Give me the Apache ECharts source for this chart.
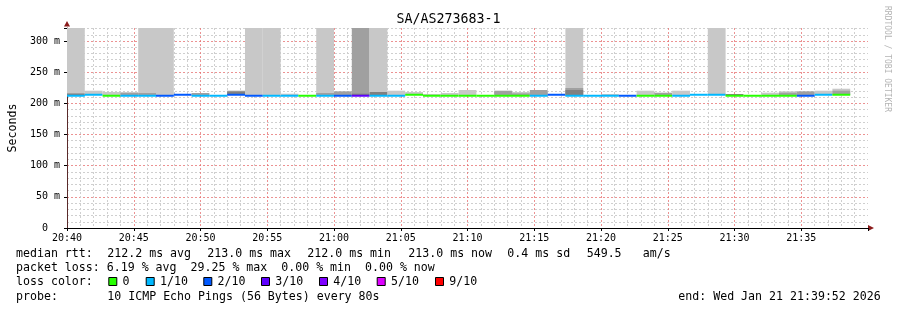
<!DOCTYPE html>
<html><head><meta charset="utf-8">
<script src="https://cdn.jsdelivr.net/npm/echarts@6/dist/echarts.min.js"></script>
<style>html,body{margin:0;padding:0;background:#fff}#c{width:897px;height:310px}</style>
</head><body><div id="c"></div>
<script>
// ---- data ----
const titleText = 'SA/AS273683-1';
const axisStart = '20:40:00';
const axisEnd = '21:40:00';
const stepStarts = ['20:40:00','20:41:20','20:42:40','20:44:00','20:45:20','20:46:40','20:48:00','20:49:20','20:50:40','20:52:00',
  '20:53:20','20:54:40','20:56:00','20:57:20','20:58:40','21:00:00','21:01:20','21:02:40','21:04:00','21:05:20',
  '21:06:40','21:08:00','21:09:20','21:10:40','21:12:00','21:13:20','21:14:40','21:16:00','21:17:20','21:18:40',
  '21:20:00','21:21:20','21:22:40','21:24:00','21:25:20','21:26:40','21:28:00','21:29:20','21:30:40','21:32:00',
  '21:33:20','21:34:40','21:36:00','21:37:20'];
const stepSeconds = 80;
const medianMs = [212.2,213.8,212.2,212.2,212.2,212.2,213.8,212.2,212.2,213.8,
  212.2,212.2,212.2,212.2,212.2,212.2,212.2,212.2,212.2,213.8,
  212.2,212.2,212.2,212.2,212.2,212.2,212.2,213.8,212.2,212.2,
  212.2,212.2,212.2,212.2,212.2,213.8,213.8,212.2,212.2,212.2,
  212.2,212.2,213.8,213.8];
const lossCount = [1,1,0,1,1,2,2,1,1,2,
  2,1,1,0,1,2,3,1,1,0,
  0,0,0,0,0,0,1,2,1,1,
  1,2,0,0,1,1,1,0,0,0,
  0,2,1,0];
const smokeLight = [320.9,220.3,218.2,218.2,320.9,320.9,null,null,null,null,
  320.9,320.9,215.5,null,320.9,null,null,320.9,220.3,218.2,
  215.0,216.6,221.4,null,null,218.2,null,null,320.9,null,
  215.0,null,220.3,null,220.3,null,320.9,null,null,217.1,
  219.3,null,220.3,223.5];
const smokeMid = [null,null,null,216.6,216.6,null,null,216.6,null,220.3,
  null,null,null,null,216.6,219.3,320.9,null,null,null,
  null,null,null,null,220.3,216.0,221.4,null,224.6,null,
  null,null,null,217.1,null,null,null,null,null,null,
  217.1,219.3,null,220.3];
const smokeDark = [215.9,null,null,null,null,null,null,null,null,218.7,
  null,null,null,null,null,null,215.5,218.2,null,null,
  null,null,null,null,null,null,null,null,221.4,null,
  null,null,null,null,null,null,null,215.0,null,null,
  null,null,null,null];
const lossLevels = [0,1,2,3,4,5,9];
const lossLabels = ['0','1/10','2/10','3/10','4/10','5/10','9/10'];
const lossColors = ['#26ff00','#00b8ff','#0059ff','#5e00ff','#7e00ff','#dd00ff','#ff0000'];
const yMax = 320.9;
const legendLine1 = [['median rtt:',16],['212.2 ms avg',107.3],['213.0 ms max',207.3],['212.0 ms min',307.3],['213.0 ms now',408.3],['0.4 ms sd',507.3],['549.5',586.7],['am/s',642.7]];
const legendLine2 = 'packet loss: 6.19 % avg  29.25 % max  0.00 % min  0.00 % now';
const probeText = '10 ICMP Echo Pings (56 Bytes) every 80s';
const endText = 'end: Wed Jan 21 21:39:52 2026';
const watermark = 'RRDTOOL / TOBI OETIKER';

// ---- helpers ----
const secs = s => { const p = s.split(':').map(Number); return p[0]*3600 + p[1]*60 + p[2]; };
const t0s = secs(axisStart);
const rel = s => secs(s) - t0s;
const colorOf = n => lossColors[lossLevels.indexOf(n)];
const pad = n => (n < 10 ? '0' : '') + n;
const MONO = '"DejaVu Sans Mono", monospace';

const chart = echarts.init(document.getElementById('c'), null, {renderer: 'canvas'});

function renderStep(params, api) {
  const i = params.dataIndex;
  const a0 = api.value(0), a1 = api.value(1);
  const med = medianMs[i];
  const kids = [];
  const band = (lo, hi, fill) => {
    const p = api.coord([a0, hi]), q = api.coord([a1, lo]);
    kids.push({type: 'rect', shape: {x: p[0], y: p[1], width: q[0] - p[0], height: q[1] - p[1]}, style: {fill: fill}});
  };
  if (smokeLight[i] != null) band(med, smokeLight[i], '#c8c8c8');
  if (smokeMid[i] != null) band(med, smokeMid[i], '#a0a0a0');
  if (smokeDark[i] != null) band(med, smokeDark[i], '#808080');
  const m0 = api.coord([a0, med]), m1 = api.coord([a1, med]);
  kids.push({type: 'rect', shape: {x: m0[0], y: m0[1] - 1, width: m1[0] - m0[0], height: 2}, style: {fill: colorOf(lossCount[i])}});
  return {type: 'group', children: kids};
}

const graphics = [];
const txt = (text, x, y, size, extra) => graphics.push(Object.assign({type: 'text', x: x, y: y, silent: true,
  style: {text: text, font: size + 'px ' + MONO, fill: '#000', align: 'left', verticalAlign: 'middle'}}, extra || {}));
legendLine1.forEach(([t, x]) => txt(t, x, 254, 11.6));
txt(legendLine2, 16, 268.3, 11.6);
txt('loss color:', 16, 282.3, 11.6);
const boxX = [108.3,145.7,203.3,261,319,376.7,435];
lossLabels.forEach((lab, k) => {
  graphics.push({type: 'rect', silent: true, shape: {x: boxX[k] + 0.5, y: 277.5, width: 8, height: 8},
    style: {fill: lossColors[k], stroke: '#000', lineWidth: 1}});
  txt(lab, boxX[k] + 14.3, 282.3, 11.6);
});
txt('probe:', 16, 296.7, 11.6);
txt(probeText, 107.3, 296.7, 11.6);
txt(endText, 678.3, 296.7, 11.6);
graphics.push({type: 'text', x: 887, y: 59, rotation: -Math.PI / 2, silent: true,
  style: {text: watermark, font: '8px ' + MONO, fill: '#b4b4b4', align: 'center', verticalAlign: 'middle'}});
// axis arrows
graphics.push({type: 'polygon', silent: true, shape: {points: [[64, 26.5], [70, 26.5], [67, 21]]}, style: {fill: '#8b1c1c'}});
graphics.push({type: 'polygon', silent: true, shape: {points: [[868, 225], [868, 231], [874, 228]]}, style: {fill: '#8b1c1c'}});

const gridCycle = ['rgba(230,110,110,0.75)', '#cfcfcf', '#cfcfcf', '#cfcfcf', '#cfcfcf'];
const labelTime = v => { const t = t0s + v; return pad(Math.floor(t / 3600)) + ':' + pad(Math.floor(t % 3600 / 60)); };

chart.setOption({
  animation: false,
  backgroundColor: '#fff',
  title: {text: titleText, left: 'center', top: 8,
    textStyle: {fontFamily: MONO, fontSize: 13.3, fontWeight: 'normal', color: '#000'}},
  grid: {left: 67, top: 28, width: 801, height: 200, containLabel: false, outerBoundsMode: 'none'},
  xAxis: [{
    type: 'value', min: 0, max: rel(axisEnd), interval: 60,
    axisLine: {show: true, lineStyle: {color: '#000', width: 1}},
    axisTick: {show: false},
    axisLabel: {margin: 5, fontFamily: MONO, fontSize: 10, color: '#000',
      formatter: v => (v % 300 !== 0 || v >= rel(axisEnd)) ? '' : labelTime(v)},
    splitLine: {show: true, showMaxLine: false, lineStyle: {color: gridCycle, type: [2, 2], width: 1}}
  }, {
    type: 'value', min: 0, max: rel(axisEnd), interval: 300, position: 'bottom',
    axisLine: {show: false}, axisLabel: {show: false}, splitLine: {show: false},
    axisTick: {show: true, length: 3, lineStyle: {color: '#000'}}
  }],
  yAxis: [{
    type: 'value', min: 0, max: yMax, interval: 10,
    name: 'Seconds', nameLocation: 'middle', nameRotate: 90, nameGap: 48,
    nameTextStyle: {fontFamily: MONO, fontSize: 11.6, color: '#000'},
    axisLine: {show: true, lineStyle: {color: '#5a2a2a', width: 1}},
    axisTick: {show: false},
    axisLabel: {margin: 7, fontFamily: MONO, fontSize: 10, color: '#000',
      formatter: v => (Math.abs(v % 50) < 1e-6 ? (v === 0 ? '0  ' : v + ' m') : '')},
    splitLine: {show: true, showMaxLine: false, lineStyle: {color: gridCycle, type: [2, 2], width: 1}}
  }, {
    type: 'value', min: 0, max: yMax, interval: 50, position: 'left',
    axisLine: {show: false}, axisLabel: {show: false}, splitLine: {show: false},
    axisTick: {show: true, length: 3, lineStyle: {color: '#000'}}
  }],
  series: [{
    type: 'custom', clip: true,
    renderItem: renderStep,
    encode: {x: [0, 1], y: 2},
    data: stepStarts.map((s, i) => [rel(s), rel(s) + stepSeconds, medianMs[i]])
  }],
  graphic: graphics
});
</script></body></html>
